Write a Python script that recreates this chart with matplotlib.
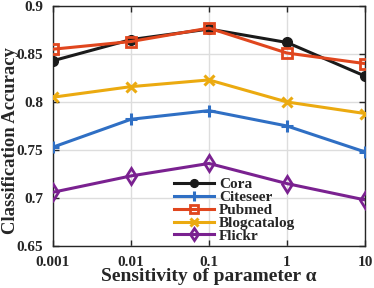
import matplotlib
matplotlib.use("Agg")
import matplotlib.pyplot as plt

x_labels = ["0.001", "0.01", "0.1", "1", "10"]
cora = [0.843, 0.865, 0.876, 0.862, 0.827]
citeseer = [0.753, 0.782, 0.791, 0.775, 0.748]
pubmed = [0.855, 0.863, 0.877, 0.851, 0.840]
blogcatalog = [0.805, 0.816, 0.823, 0.800, 0.788]
flickr = [0.706, 0.723, 0.736, 0.715, 0.698]

plt.rcParams['font.family'] = ['Liberation Serif', 'DejaVu Serif']
plt.rcParams['font.weight'] = 'bold'

fig = plt.figure(figsize=(3.74, 2.88), dpi=100)
ax = fig.add_axes([53/374, 1-246/288, 312/374, 240/288])

xs = list(range(len(x_labels)))
lw = 2.2
ax.plot(xs, cora, color='#1a1a1a', marker='o', ms=7, lw=lw, label='Cora', zorder=3)
ax.plot(xs, citeseer, color='#2f6fc4', marker='+', ms=9, mew=2.2, lw=lw, label='Citeseer', zorder=3)
ax.plot(xs, pubmed, color='#e0461e', marker='s', ms=7, mfc='none', mew=2.0, lw=lw, label='Pubmed', zorder=4)
ax.plot(xs, blogcatalog, color='#ebaa10', marker='x', ms=7, mew=2.2, lw=lw, label='Blogcatalog', zorder=3)
ax.plot(xs, flickr, color='#7a2190', marker='d', ms=8, mfc='none', mew=2.0, lw=lw, label='Flickr', zorder=3)

ax.set_xlim(0, 4)
ax.set_ylim(0.65, 0.9)
ax.set_xticks(xs)
ax.set_xticklabels(x_labels)
ax.set_yticks([0.65, 0.7, 0.75, 0.8, 0.85, 0.9])
ax.set_yticklabels(["0.65", "0.7", "0.75", "0.8", "0.85", "0.9"])
ax.grid(True, color='#dddddd', lw=1.0)
ax.set_axisbelow(True)
ax.tick_params(direction='in', length=4, width=1, labelsize=11, top=True, right=True, colors='#262626')
ax.tick_params(axis='x', pad=7)
ax.tick_params(axis='y', pad=7)
for s in ax.spines.values():
    s.set_color('#262626')
    s.set_linewidth(1.0)
for t in ax.get_xticklabels() + ax.get_yticklabels():
    t.set_fontweight('bold')

ax.set_xlabel('Sensitivity of parameter α', fontsize=14, fontweight='bold', color='#262626')
ax.set_ylabel('Classification Accuracy', fontsize=13.4, fontweight='bold', color='#262626')
ax.xaxis.set_label_coords(0.5, -0.09)
ax.yaxis.set_label_coords(-0.11, 0.44)

leg = ax.legend(loc='lower left', bbox_to_anchor=(0.36, -0.025), frameon=False,
                fontsize=11, handlelength=2.6, handletextpad=0.3, labelspacing=-0.05,
                borderaxespad=0.2, markerscale=0.8)
for t in leg.get_texts():
    t.set_fontweight('bold')
    t.set_color('#262626')

fig.savefig('out.png', dpi=100)
